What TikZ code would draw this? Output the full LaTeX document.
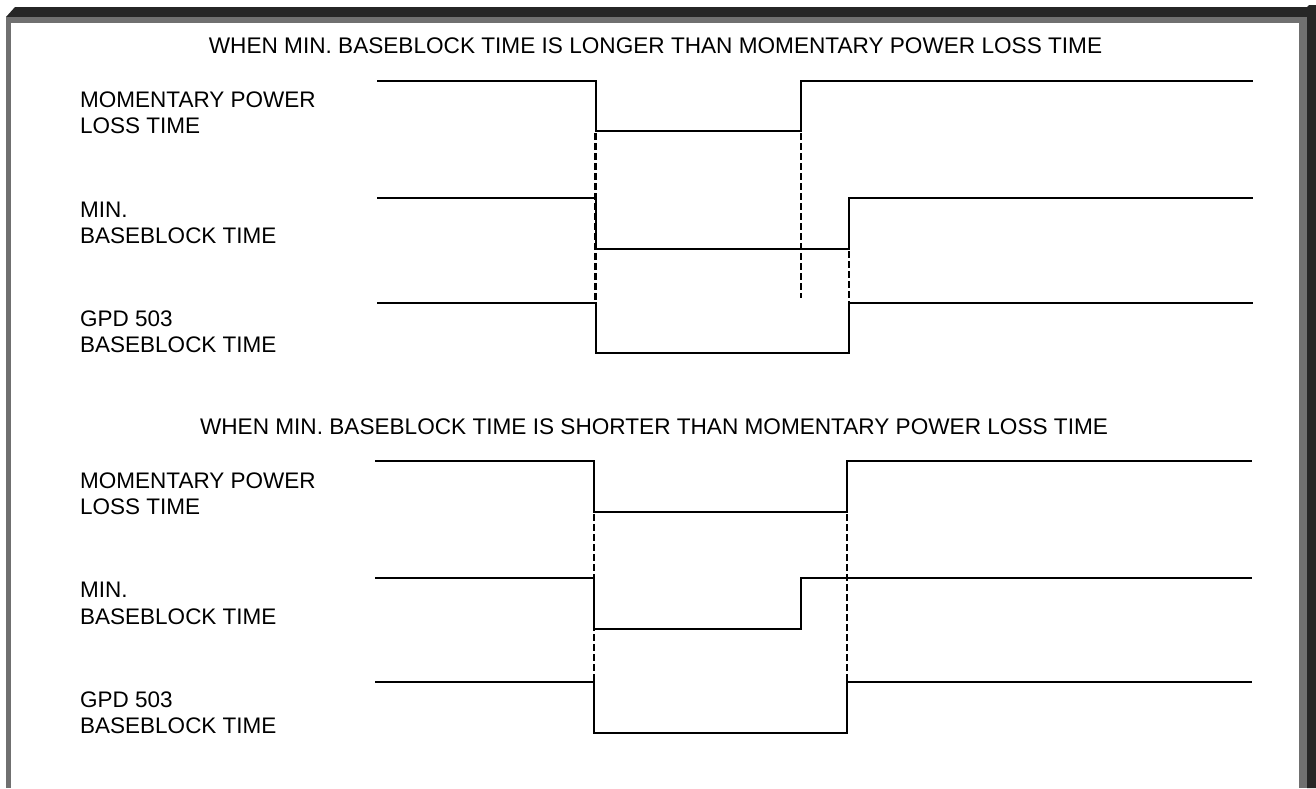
\documentclass[tikz,border=0pt]{standalone}
\usepackage{fontspec}
\setmainfont{Liberation Sans}
\definecolor{framedark}{HTML}{262626}
\definecolor{framegray}{HTML}{707070}
\tikzset{
  wave/.style={line width=2pt, black, line join=miter},
  guide/.style={line width=2.2pt, black, dash pattern=on 6.5pt off 3.5pt},
  lbl/.style={anchor=base west, inner sep=0pt, font=\fontsize{22.5}{27}\selectfont},
  ttl/.style={anchor=base, inner sep=0pt, font=\fontsize{22.6}{27}\selectfont}
}
\begin{document}
\begin{tikzpicture}[x=1pt, y=-1pt]
\useasboundingbox (0,0) rectangle (1316,788);
\fill[white] (0,0) rectangle (1316,788);
% frame
\fill[framedark] (6,17) -- (15,7) -- (1307,7) -- (1309,5) -- (1316,5) -- (1316,788) -- (1307,788) -- (1307,17) -- cycle;
\fill[framegray] (6,17) rectangle (11,788);
\fill[framegray] (6,17) rectangle (1307,23);
\fill[framegray] (1299,17) rectangle (1307,788);

% ---------- upper case ----------
\node[ttl] (t1) at (655.5,53) {WHEN MIN. BASEBLOCK TIME IS LONGER THAN MOMENTARY POWER LOSS TIME};
\node[lbl] (a1) at (80,107) {MOMENTARY POWER};
\node[lbl] (a1b) at (80,133.5) {LOSS TIME};
\node[lbl] (a2) at (80,217) {MIN.};
\node[lbl] (a2b) at (80,243.5) {BASEBLOCK TIME};
\node[lbl] (a3) at (80,326.5) {GPD 503};
\node[lbl] (a3b) at (80,352.5) {BASEBLOCK TIME};

\draw[wave] (377,80.7) -- (595.7,80.7) -- (595.7,131) -- (800.7,131) -- (800.7,80.7) -- (1253,80.7);
\draw[wave] (377,197.7) -- (595.7,197.7) -- (595.7,249) -- (849,249) -- (849,197.7) -- (1253,197.7);
\draw[wave] (377,302.7) -- (595.7,302.7) -- (595.7,353) -- (849,353) -- (849,302.7) -- (1253,302.7);
\draw[guide] (595.5,133) -- (595.5,302);
\draw[guide] (800.7,133) -- (800.7,298);
\draw[guide] (849,251) -- (849,302);

% ---------- lower case ----------
\node[ttl] (t2) at (654,434) {WHEN MIN. BASEBLOCK TIME IS SHORTER THAN MOMENTARY POWER LOSS TIME};
\node[lbl] (b1) at (80,488) {MOMENTARY POWER};
\node[lbl] (b1b) at (80,514.8) {LOSS TIME};
\node[lbl] (b2) at (80,597.5) {MIN.};
\node[lbl] (b2b) at (80,624) {BASEBLOCK TIME};
\node[lbl] (b3) at (80,707) {GPD 503};
\node[lbl] (b3b) at (80,733) {BASEBLOCK TIME};

\draw[wave] (375,461) -- (594,461) -- (594,511.7) -- (847,511.7) -- (847,461) -- (1252,461);
\draw[wave] (375,578) -- (594,578) -- (594,629.3) -- (800.7,629.3) -- (800.7,578) -- (1252,578);
\draw[wave] (375,682.3) -- (594,682.3) -- (594,733.3) -- (847,733.3) -- (847,682.3) -- (1252,682.3);
\draw[guide] (594,514) -- (594,682);
\draw[guide] (847,514) -- (847,682);
\end{tikzpicture}
\end{document}
